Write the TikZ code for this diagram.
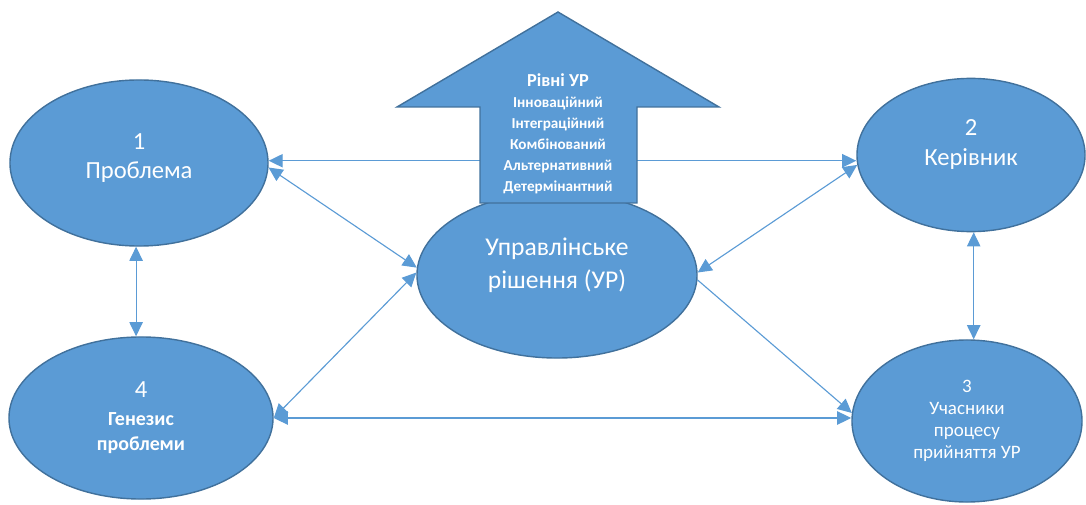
\documentclass[tikz,border=0pt]{standalone}
\usepackage{fontspec}
\setmainfont{Carlito}
\usetikzlibrary{shapes.geometric, arrows.meta}
\definecolor{boxblue}{HTML}{5B9BD5}
\definecolor{boxline}{HTML}{41719C}

\begin{document}
\begin{tikzpicture}[x=0.025cm, y=-0.025cm, >={Triangle[length=10pt,width=9.5pt]}]
    \tikzstyle{oval}=[ellipse, fill=boxblue, draw=boxline, line width=1pt, inner sep=0pt, text=white, align=center]
    \tikzstyle{link}=[draw=boxblue, line width=0.8pt]
    \tikzstyle{lvltext}=[text=white, anchor=base, font=\bfseries\fontsize{10.8}{12}\selectfont]

    \useasboundingbox (0,0) rectangle (1086,505);

    % Draw the ovals
    \node[oval, minimum width=7cm, minimum height=4.15cm, text depth=0.58cm,
          font=\fontsize{18.2}{23.5}\selectfont] (UR) at (557,275) {Управлінське\\рішення (УР)};
    \node[oval, minimum width=6.45cm, minimum height=4.15cm, text depth=0.34cm,
          font=\fontsize{17.5}{20.6}\selectfont] (problem) at (139,163) {1\\Проблема};
    \node[oval, minimum width=5.7cm, minimum height=3.83cm, text depth=0.62cm,
          font=\fontsize{17.5}{21}\selectfont] (director) at (971,155) {2\\Керівник};
    \node[oval, minimum width=5.75cm, minimum height=4.05cm,
          font=\fontsize{13.5}{15.6}\selectfont] (members) at (967,421) {3\\Учасники\\процесу\\прийняття УР};
    \node[oval, minimum width=6.6cm, minimum height=4.05cm,
          font=\bfseries\fontsize{14.2}{17.8}\selectfont] (genesis) at (141,418) {{\mdseries\fontsize{17.5}{20}\selectfont 4}\\[2pt]Генезис\\проблеми};

    % Draw the links
    \draw[link, <->] (problem.1) -- (problem.1 -| director.west);
    \draw[link, <->] (problem.-2) -- (UR.177);
    \draw[link, <->] (genesis.0) -- (UR.179);
    \draw[link, <->] (genesis.east) -- (genesis.east -| members.west);
    \draw[link, <->] (UR.1) -- (director.185);
    \draw[link, ->] (UR.-2.5) -- (members.176);
    \draw[link, <->] (problem.-92) -- (problem.-92 |- genesis.north);
    \draw[link, <->] (director.-88) -- (director.-88 |- members.north);

    % Draw the up arrow with the levels
    \fill[boxblue, draw=boxline, line width=1pt]
        (558,12) -- (719,107) -- (637,107) -- (637,203) -- (480,203) -- (480,107) -- (397,107) -- cycle;
    \node[lvltext, font=\bfseries\fontsize{13}{14}\selectfont] (L-0) at (558,87) {Рівні УР};
    \foreach \lvl [count=\i] in {Інноваційний, Інтеграційний, Комбінований, Альтернативний, Детермінантний}
        \node[lvltext] (L-\i) at (558,87+21*\i) {\lvl};
\end{tikzpicture}
\end{document}
